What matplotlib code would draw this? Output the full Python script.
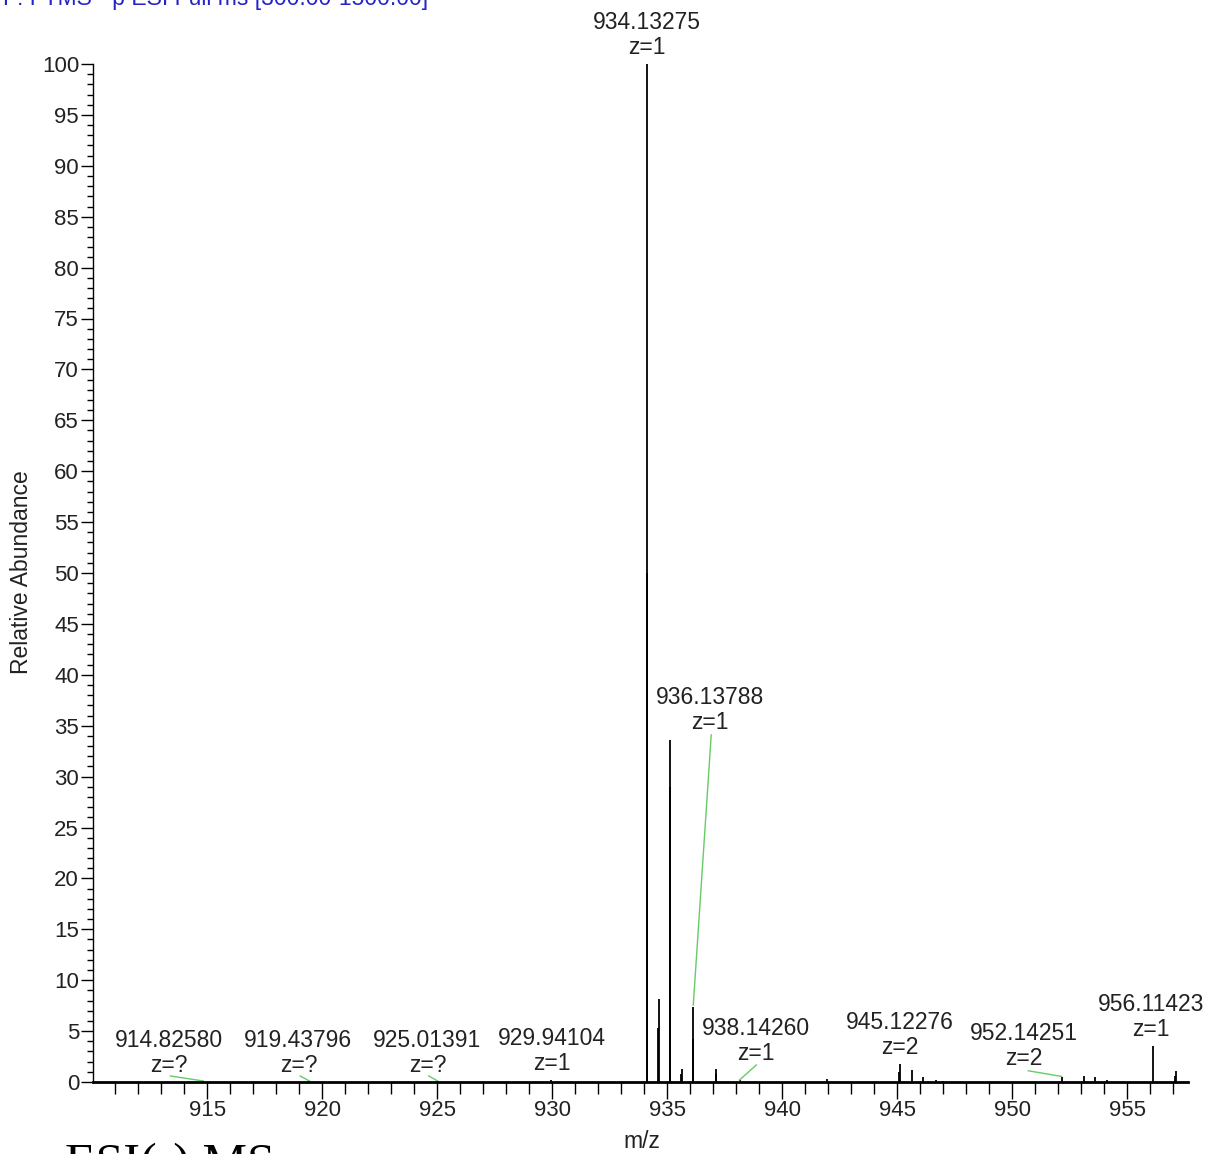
import matplotlib
matplotlib.use('Agg')
import matplotlib.pyplot as plt
from matplotlib.ticker import MultipleLocator
import numpy as np

W, H, DPI = 1209, 1154, 100
plt.rcParams['font.family'] = ['Liberation Sans', 'DejaVu Sans']

# ---- spectrum sticks (m/z, relative abundance) ----
peak_mz = [914.826, 919.438, 925.014, 929.941,
           934.100, 934.133, 934.600, 934.640,
           935.100, 935.135, 935.580, 935.620,
           936.100, 936.138, 937.100, 937.130, 938.143,
           941.960, 945.080, 945.123, 945.620, 946.130, 946.670, 947.000,
           952.143, 953.120, 953.600, 954.100,
           956.114, 957.070, 957.120]
peak_int = [0.1, 0.1, 0.1, 0.2,
            50.0, 100.0, 5.3, 8.2,
            29.0, 33.6, 0.8, 1.3,
            4.2, 7.4, 0.8, 1.3, 0.2,
            0.3, 1.0, 1.8, 1.2, 0.5, 0.2, 0.1,
            0.5, 0.6, 0.5, 0.2,
            3.5, 0.6, 1.05]

# ---- peak annotations ----
label_text = ["914.82580\nz=?", "919.43796\nz=?", "925.01391\nz=?",
              "929.94104\nz=1", "934.13275\nz=1", "936.13788\nz=1",
              "938.14260\nz=1", "945.12276\nz=2", "952.14251\nz=2",
              "956.11423\nz=1"]
label_mz = [913.35, 918.96, 924.57, 929.96, 934.13, 936.87,
            938.87, 945.09, 950.52, 956.04]
label_y = [2.85, 2.85, 2.85, 3.05, 102.85, 36.54, 4.03, 4.62, 3.54, 6.39]

# leader lines (label -> peak)
lead_x0 = [913.39, 919.04, 924.63, 936.91, 938.87, 950.70]
lead_y0 = [0.59, 0.59, 0.59, 34.1, 1.67, 1.1]
lead_x1 = [914.826, 919.438, 925.014, 936.13, 938.143, 952.143]
lead_y1 = [0.1, 0.1, 0.1, 7.56, 0.2, 0.55]

x_major = np.arange(915, 956, 5)
y_major = np.arange(0, 101, 5)

fig = plt.figure(figsize=(W / DPI, H / DPI), dpi=DPI)
ax = fig.add_axes([93 / W, 1 - 1082 / H, (1188 - 93) / W, (1082 - 64) / H])
ax.set_xlim(910.03, 957.64)
ax.set_ylim(0, 100)

ax.vlines(peak_mz, 0, peak_int, color='black', lw=1.3)

for x0, y0, x1, y1 in zip(lead_x0, lead_y0, lead_x1, lead_y1):
    ax.plot([x0, x1], [y0, y1], color='#66cc66', lw=1.0, clip_on=False)

for t, x, y in zip(label_text, label_mz, label_y):
    ax.text(x, y, t, ha='center', va='center', fontsize=16.5,
            linespacing=1.1, color='#222222', clip_on=False)

for s in ['top', 'right']:
    ax.spines[s].set_visible(False)
ax.spines['left'].set_linewidth(1.0)
ax.spines['bottom'].set_linewidth(2.0)

ax.set_xticks(x_major)
ax.set_yticks(y_major)
ax.xaxis.set_minor_locator(MultipleLocator(1))
ax.yaxis.set_minor_locator(MultipleLocator(1))
ax.tick_params(axis='x', which='major', direction='out', length=12, width=1.0,
               pad=1, labelsize=16, labelcolor='#222222')
ax.tick_params(axis='x', which='minor', direction='out', length=8.5, width=1.0)
ax.tick_params(axis='y', which='major', direction='out', length=9, width=1.0,
               pad=1, labelsize=16, labelcolor='#222222')
ax.tick_params(axis='y', which='minor', direction='out', length=4.5, width=1.0)

fig.text(22 / W, 1 - 572 / H, "Relative Abundance", rotation=90,
         ha='center', va='center', fontsize=16.5, color='#222222')
fig.text(642 / W, 1 - 1141 / H, "m/z", ha='center', va='center',
         fontsize=16.5, color='#222222')
fig.text(3 / W, 1 - 5 / H, "F: FTMS - p ESI Full ms [300.00-1500.00]",
         color='#2323c8', fontsize=16.5, va='baseline', ha='left')
fig.text(65 / W, 1 - 1143 / H, "ESI(-) MS", family='Liberation Serif',
         fontsize=36, va='top', ha='left', color='black')

fig.savefig('out.png', dpi=DPI)
